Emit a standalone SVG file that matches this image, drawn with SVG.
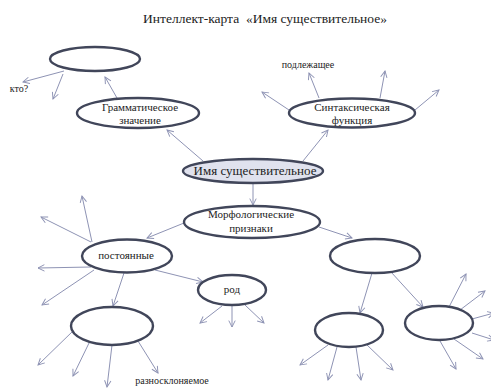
<svg xmlns="http://www.w3.org/2000/svg" width="491" height="388" viewBox="0 0 491 388">
<style>
.n{fill:#fff;stroke:#41465a;stroke-width:2.4}
.c{fill:#e0e2ee}
.e line{stroke:#8e93b4;stroke-width:1;marker-end:url(#a)}
text{fill:#222;text-anchor:middle}
.t{font-size:11px}
.s{font-size:10px}
</style>
<defs>
<marker id="a" viewBox="0 0 10 10" refX="9" refY="5" markerWidth="8" markerHeight="8" markerUnits="userSpaceOnUse" orient="auto">
<path d="M1,1 L9,5 L1,9" fill="none" stroke="#8e93b4" stroke-width="1.2"/>
</marker>
</defs>
<rect width="491" height="388" fill="#fff"/>
<g font-family="Liberation Serif, DejaVu Serif, serif">
<text x="265" y="23" style="font-size:13.5px">Интеллект-карта &#160;«Имя существительное»</text>
<g class="e" id="connectors">
<line x1="64" y1="71" x2="23" y2="82"/>
<line x1="63" y1="74" x2="53" y2="99"/>
<line x1="117" y1="98" x2="105" y2="77"/>
<line x1="203" y1="161" x2="167" y2="130"/>
<line x1="303" y1="161" x2="328" y2="130"/>
<line x1="289" y1="110" x2="262" y2="92"/>
<line x1="319" y1="98" x2="309" y2="73"/>
<line x1="380" y1="98" x2="385" y2="71"/>
<line x1="415" y1="110" x2="439" y2="90"/>
<line x1="253" y1="184" x2="253" y2="205"/>
<line x1="184" y1="223" x2="147" y2="238"/>
<line x1="319" y1="227" x2="352" y2="238"/>
<line x1="92" y1="242" x2="82" y2="196"/>
<line x1="91" y1="242" x2="41" y2="217"/>
<line x1="91" y1="267" x2="38" y2="268"/>
<line x1="94" y1="270" x2="42" y2="305"/>
<line x1="124" y1="273" x2="113" y2="306"/>
<line x1="155" y1="270" x2="203" y2="282"/>
<line x1="222" y1="306" x2="200" y2="323"/>
<line x1="232" y1="306" x2="232" y2="327"/>
<line x1="245" y1="305" x2="264" y2="323"/>
<line x1="73" y1="331" x2="38" y2="365"/>
<line x1="90" y1="341" x2="73" y2="376"/>
<line x1="112" y1="345" x2="107" y2="387"/>
<line x1="138" y1="341" x2="158" y2="373"/>
<line x1="372" y1="273" x2="360" y2="313"/>
<line x1="391" y1="272" x2="423" y2="307"/>
<line x1="328" y1="345" x2="300" y2="365"/>
<line x1="337" y1="347" x2="328" y2="380"/>
<line x1="356" y1="347" x2="361" y2="380"/>
<line x1="366" y1="344" x2="393" y2="370"/>
<line x1="449" y1="307" x2="466" y2="274"/>
<line x1="460" y1="310" x2="485" y2="291"/>
<line x1="472" y1="319" x2="494" y2="313"/>
<line x1="472" y1="333" x2="494" y2="340"/>
<line x1="454" y1="339" x2="483" y2="359"/>
<line x1="440" y1="341" x2="456" y2="369"/>
</g>
<g id="n1"><ellipse class="n" cx="95" cy="59" rx="45" ry="12"/></g>
<g id="n2"><ellipse class="n" cx="138" cy="113" rx="61" ry="15"/>
<text class="t" x="140" y="111">Грамматическое</text><text class="t" x="140" y="124">значение</text></g>
<g id="n3"><ellipse class="n" cx="352" cy="113" rx="63" ry="14.5"/>
<text class="t" x="352" y="111">Синтаксическая</text><text class="t" x="352" y="124">функция</text></g>
<g id="n4"><ellipse class="n c" cx="253" cy="171" rx="70" ry="12"/>
<text x="255" y="175" style="font-size:13px">Имя существительное</text></g>
<g id="n5"><ellipse class="n" cx="252" cy="222" rx="68" ry="16"/>
<text class="t" x="251" y="218">Морфологические</text><text class="t" x="251" y="232">признаки</text></g>
<g id="n6"><ellipse class="n" cx="127" cy="256" rx="45" ry="16.5"/>
<text class="t" x="126" y="259">постоянные</text></g>
<g id="n7"><ellipse class="n" cx="232" cy="290" rx="34" ry="15"/>
<text class="t" x="232" y="293">род</text></g>
<g id="n8"><ellipse class="n" cx="112" cy="326" rx="41" ry="19"/></g>
<g id="n9"><ellipse class="n" cx="375" cy="256" rx="45" ry="17"/></g>
<g id="n10"><ellipse class="n" cx="349" cy="330" rx="34" ry="17"/></g>
<g id="n11"><ellipse class="n" cx="439" cy="323" rx="34" ry="17"/></g>
<text class="s" x="19" y="92">кто?</text>
<text class="s" x="308" y="68">подлежащее</text>
<text class="s" x="172" y="384">разносклоняемое</text>
</g>
</svg>
